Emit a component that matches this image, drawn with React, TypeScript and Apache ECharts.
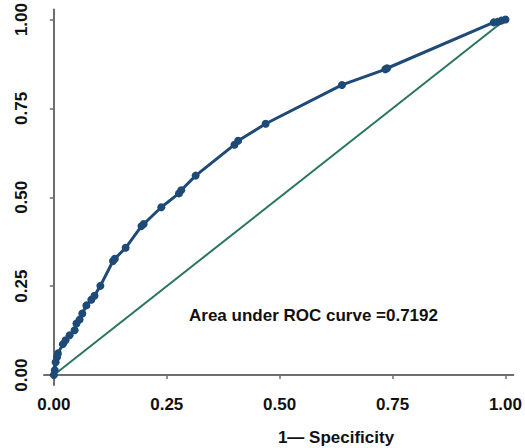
import React, { useEffect, useRef } from "react";
import * as echarts from "echarts";

const fpr = [0, 0.002, 0.004, 0.007, 0.009, 0.02, 0.026, 0.035, 0.046, 0.05, 0.057, 0.063, 0.072, 0.083, 0.09, 0.103, 0.131, 0.135, 0.159, 0.194, 0.199, 0.238, 0.277, 0.282, 0.314, 0.4, 0.408, 0.469, 0.638, 0.734, 0.738, 0.974, 0.983, 0.991, 1.0];
const tpr = [0, 0.014, 0.036, 0.05, 0.061, 0.087, 0.098, 0.112, 0.126, 0.145, 0.156, 0.173, 0.196, 0.212, 0.223, 0.251, 0.321, 0.327, 0.358, 0.419, 0.425, 0.472, 0.511, 0.52, 0.561, 0.648, 0.659, 0.707, 0.816, 0.86, 0.863, 0.992, 0.994, 0.997, 1.0];
const refX = [0, 1];
const refY = [0, 1];
const tickValues = [0, 0.25, 0.5, 0.75, 1];
const aucLabel = "Area under ROC curve =0.7192";
const xName = "1\u2014 Specificity";

const FONT = "'Liberation Sans', Arial, sans-serif";

export default function App() {
  const ref = useRef<HTMLDivElement>(null);
  useEffect(() => {
    document.body.style.margin = "0";
    const chart = echarts.init(ref.current!, undefined, { renderer: "svg" });
    const axisCommon = {
      type: "value" as const,
      axisLine: { show: true, lineStyle: { color: "#6e6e6e", width: 2 } },
      axisTick: { show: true, length: 4, customValues: tickValues, lineStyle: { color: "#6e6e6e", width: 1.5 } },
      splitLine: { show: false },
      axisLabel: {
        customValues: tickValues,
        formatter: (v: number) => v.toFixed(2),
        color: "#111",
        fontFamily: FONT,
        fontWeight: "bold" as const,
        fontSize: 17,
      },
    };
    chart.setOption({
      animation: false,
      backgroundColor: "#ffffff",
      grid: { left: 44, right: 5, top: 7, bottom: 63, containLabel: false },
      xAxis: {
        ...axisCommon,
        min: -0.0218,
        max: 1.0175,
        axisLabel: { ...axisCommon.axisLabel, margin: 11 },
      },
      yAxis: {
        ...axisCommon,
        min: -0.0279,
        max: 1.028,
        axisLabel: { ...axisCommon.axisLabel, rotate: 90, margin: 14 },
      },
      series: [
        {
          type: "line",
          data: refX.map((x, i) => [x, refY[i]]),
          showSymbol: false,
          lineStyle: { color: "#2a7560", width: 2 },
          silent: true,
          z: 1,
        },
        {
          type: "line",
          data: fpr.map((x, i) => [x, tpr[i]]),
          symbol: "circle",
          symbolSize: 8,
          showAllSymbol: true,
          itemStyle: { color: "#1d4a77" },
          lineStyle: { color: "#1d4a77", width: 3 },
          z: 2,
        },
      ],
      graphic: [
        {
          type: "text",
          left: 189,
          top: 307,
          style: {
            text: aucLabel,
            fill: "#111",
            font: `bold 17px ${FONT}`,
          },
        },
        {
          type: "text",
          x: 336,
          y: 437,
          style: {
            text: xName,
            fill: "#111",
            font: `bold 17px ${FONT}`,
            textAlign: "center",
            textVerticalAlign: "middle",
          },
        },
      ],
    });
    return () => chart.dispose();
  }, []);
  return <div ref={ref} style={{ width: 525, height: 448 }} />;
}
